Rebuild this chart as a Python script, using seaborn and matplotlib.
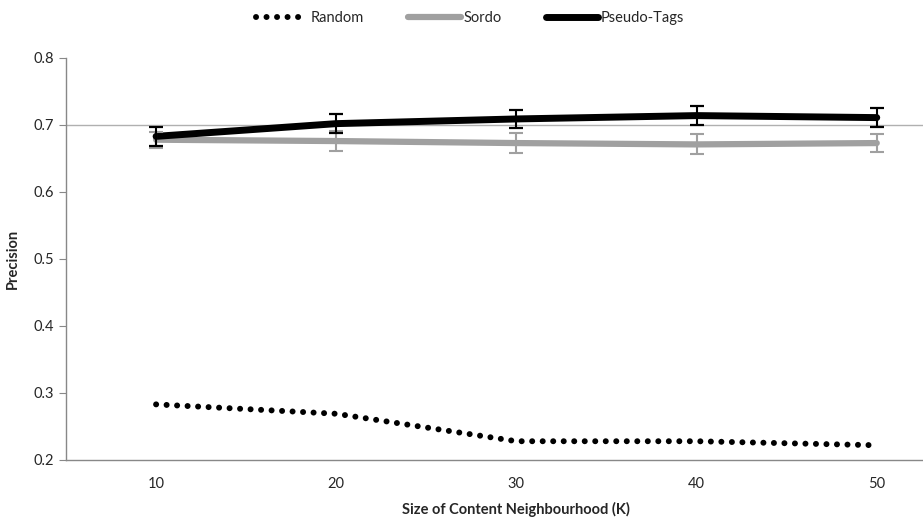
import matplotlib
matplotlib.use('Agg')
import matplotlib.pyplot as plt
import seaborn as sns
import pandas as pd

k_values = [10, 20, 30, 40, 50]
random_prec = [0.283, 0.269, 0.228, 0.228, 0.222]
sordo_prec = [0.678, 0.676, 0.673, 0.671, 0.673]
sordo_err = [0.012, 0.015, 0.015, 0.015, 0.013]
pseudo_prec = [0.683, 0.702, 0.709, 0.714, 0.711]
pseudo_err = [0.014, 0.014, 0.014, 0.014, 0.014]

sns.set_style('white')
plt.rcParams['font.family'] = ['Lato', 'DejaVu Sans']

df = pd.DataFrame({
    'K': k_values * 3,
    'Precision': random_prec + sordo_prec + pseudo_prec,
    'Series': ['Random'] * 5 + ['Sordo'] * 5 + ['Pseudo-Tags'] * 5,
})

fig = plt.figure(figsize=(9.23, 5.19), dpi=100)
ax = fig.add_axes([0.0715, 0.1137, 0.976, 0.7746])

ax.axhline(0.7, color='#b0b0b0', lw=1, zorder=0)

palette = {'Random': 'black', 'Sordo': '#a0a0a0', 'Pseudo-Tags': 'black'}
widths = {'Random': 4.3, 'Sordo': 4.5, 'Pseudo-Tags': 5}
for name in ['Random', 'Sordo', 'Pseudo-Tags']:
    sub = df[df['Series'] == name]
    sns.lineplot(data=sub, x='K', y='Precision', ax=ax, color=palette[name],
                 lw=widths[name], label=name, legend=False)
rnd = [h for h in ax.get_lines() if h.get_label() == 'Random'][0]
rnd.set_linestyle((0, (0.01, 1.75)))
rnd.set_dash_capstyle('round')

ax.errorbar(k_values, sordo_prec, yerr=sordo_err, fmt='none', ecolor='#a0a0a0',
            elinewidth=1.5, capsize=5, capthick=1.5)
ax.errorbar(k_values, pseudo_prec, yerr=pseudo_err, fmt='none', ecolor='black',
            elinewidth=1.5, capsize=5, capthick=1.6)

ax.set_xlim(5, 55)
ax.set_ylim(0.2, 0.8)
ax.set_xticks(k_values)
ax.set_xticks([5, 15, 25, 35, 45, 55], minor=True)
ax.set_yticks([0.2, 0.3, 0.4, 0.5, 0.6, 0.7, 0.8])
ax.set_yticklabels(['0.2', '0.3', '0.4', '0.5', '0.6', '0.7', '0.8'])
ax.tick_params(axis='x', which='major', length=0, labelsize=10.5, pad=12)
ax.tick_params(axis='x', which='minor', length=5, color='#888888', direction='out')
ax.tick_params(axis='y', length=5, color='#888888', direction='out', labelsize=10.5, left=True)
for s in ['top', 'right']:
    ax.spines[s].set_visible(False)
for s in ['left', 'bottom']:
    ax.spines[s].set_color('#888888')
    ax.spines[s].set_linewidth(1)

ax.set_xlabel('Size of Content Neighbourhood (K)', fontsize=10.5, fontweight='bold', labelpad=8)
ax.set_ylabel('Precision', fontsize=10.5, fontweight='bold', labelpad=10)

handles = [h for h in ax.get_lines() if h.get_label() in ('Random', 'Sordo', 'Pseudo-Tags')]
fig.legend(handles=handles, labels=[h.get_label() for h in handles], loc='center',
           bbox_to_anchor=(470 / 923, 1 - 18 / 519), ncol=3, frameon=False,
           fontsize=10.5, handlelength=3.6, columnspacing=3, handletextpad=0.2)

fig.savefig('out.png', dpi=100)
